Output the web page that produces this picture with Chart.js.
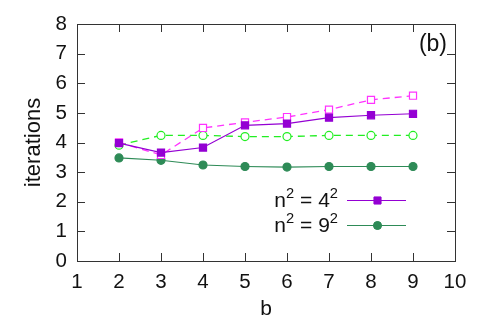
<!DOCTYPE html>
<html>
<head>
<meta charset="utf-8">
<script src="https://cdn.jsdelivr.net/npm/chart.js@4.4.0/dist/chart.umd.min.js"></script>
<style>
  html, body { margin: 0; padding: 0; background: #fff; }
  #wrap { width: 491px; height: 327px; }
</style>
</head>
<body>
<div id="wrap"><canvas id="lineChart"></canvas></div>
<script>
// values
var bValues = [2, 3, 4, 5, 6, 7, 8, 9];
var n4Solid = [3.98, 3.66, 3.83, 4.58, 4.64, 4.84, 4.92, 4.97];
var n4Dashed = [4.00, 3.58, 4.49, 4.68, 4.86, 5.11, 5.44, 5.58];
var n9Solid = [3.48, 3.40, 3.24, 3.19, 3.17, 3.19, 3.19, 3.19];
var n9Dashed = [3.91, 4.24, 4.24, 4.20, 4.20, 4.24, 4.24, 4.24];
var xTicks = [1, 2, 3, 4, 5, 6, 7, 8, 9, 10];
var yTicks = [0, 1, 2, 3, 4, 5, 6, 7, 8];
var panelLabel = '(b)';

var FONT = "'Liberation Sans', Arial, sans-serif";

function pts(arr) {
    return bValues.map(function (b, i) { return { x: b, y: arr[i] }; });
}

// superscript aware text: '^' marks a one character superscript
function drawSupText(ctx, text, xRight, y, size) {
    var parts = [];
    for (var i = 0; i < text.length; i++) {
        if (text[i] === '^') { parts.push({ t: text[i + 1], sup: true }); i++; }
        else parts.push({ t: text[i], sup: false });
    }
    var width = 0;
    parts.forEach(function (p) {
        ctx.font = (p.sup ? size * 0.7 : size) + 'px ' + FONT;
        p.w = ctx.measureText(p.t).width;
        width += p.w;
    });
    var x = xRight - width;
    ctx.textAlign = 'left';
    ctx.textBaseline = 'alphabetic';
    parts.forEach(function (p) {
        ctx.font = (p.sup ? size * 0.7 : size) + 'px ' + FONT;
        ctx.fillText(p.t, x, p.sup ? y - size * 0.42 : y);
        x += p.w;
    });
}

var framePlugin = {
    id: 'frame',
    afterDraw: function (chart) {
        var ctx = chart.ctx, a = chart.chartArea;
        var xs = chart.scales.x, ys = chart.scales.y;
        ctx.save();
        ctx.strokeStyle = '#333';
        ctx.lineWidth = 1;
        ctx.strokeRect(Math.round(a.left) + 0.5, Math.round(a.top) + 0.5,
            Math.round(a.right - a.left), Math.round(a.bottom - a.top));
        var tl = 8;
        ctx.beginPath();
        xTicks.forEach(function (v) {
            var px = Math.round(xs.getPixelForValue(v)) + 0.5;
            ctx.moveTo(px, a.bottom); ctx.lineTo(px, a.bottom - tl);
            ctx.moveTo(px, a.top); ctx.lineTo(px, a.top + tl);
        });
        yTicks.forEach(function (v) {
            var py = Math.round(ys.getPixelForValue(v)) + 0.5;
            ctx.moveTo(a.left, py); ctx.lineTo(a.left + tl, py);
            ctx.moveTo(a.right, py); ctx.lineTo(a.right - tl, py);
        });
        ctx.stroke();

        // panel label
        ctx.fillStyle = '#111';
        ctx.font = '23px ' + FONT;
        ctx.textAlign = 'right';
        ctx.textBaseline = 'alphabetic';
        ctx.fillText(panelLabel, a.right - 8, a.top + 27);

        // legend for the solid series, inside the plot
        var legendSets = [0, 2];
        legendSets.forEach(function (di, k) {
            var ds = chart.data.datasets[di];
            var ly = 200 + k * 25;
            ctx.fillStyle = '#111';
            drawSupText(ctx, ds.label, 338, ly + 7, 21);
            ctx.strokeStyle = ds.borderColor;
            ctx.lineWidth = 1;
            ctx.setLineDash([]);
            ctx.beginPath();
            ctx.moveTo(347, ly + 0.5); ctx.lineTo(406, ly + 0.5);
            ctx.stroke();
            ctx.fillStyle = ds.pointBackgroundColor;
            ctx.strokeStyle = ds.borderColor;
            Chart.helpers.drawPoint(ctx, {
                pointStyle: ds.pointStyle, radius: ds.pointRadius, borderWidth: 1
            }, 377.5, ly + 0.5);
            ctx.fill();
        });
        ctx.restore();
    }
};

var ctx = document.getElementById('lineChart').getContext('2d');
var myLineChart = new Chart(ctx, {
    type: 'line',
    data: {
        datasets: [
            {
                label: 'n^2 = 4^2', data: pts(n4Solid),
                borderColor: '#9400d3', backgroundColor: '#9400d3',
                pointBackgroundColor: '#9400d3', pointBorderColor: '#9400d3',
                pointStyle: 'rect', pointRadius: 5, borderWidth: 1.2, tension: 0
            },
            {
                label: 'n4 dashed', data: pts(n4Dashed),
                borderColor: '#ff33ff', backgroundColor: '#ffffff',
                pointBackgroundColor: '#ffffff', pointBorderColor: '#ff33ff',
                pointStyle: 'rect', pointRadius: 5, pointBorderWidth: 1.2,
                borderWidth: 1.3, borderDash: [7, 5], tension: 0
            },
            {
                label: 'n^2 = 9^2', data: pts(n9Solid),
                borderColor: '#2e8b57', backgroundColor: '#2e8b57',
                pointBackgroundColor: '#2e8b57', pointBorderColor: '#2e8b57',
                pointStyle: 'circle', pointRadius: 4, borderWidth: 1.2, tension: 0
            },
            {
                label: 'n9 dashed', data: pts(n9Dashed),
                borderColor: '#22ee22', backgroundColor: '#ffffff',
                pointBackgroundColor: '#ffffff', pointBorderColor: '#22ee22',
                pointStyle: 'circle', pointRadius: 4, pointBorderWidth: 1.2,
                borderWidth: 1.3, borderDash: [7, 5], tension: 0
            }
        ]
    },
    options: {
        responsive: true,
        maintainAspectRatio: false,
        animation: false,
        layout: { padding: { left: 0, top: 24, right: 36, bottom: 0 } },
        plugins: { legend: { display: false }, tooltip: { enabled: false } },
        scales: {
            x: {
                type: 'linear', min: 1, max: 10,
                afterBuildTicks: function (s) { s.ticks = xTicks.map(function (v) { return { value: v }; }); },
                afterFit: function (s) { s.height = 66; },
                grid: { display: false, drawTicks: false },
                border: { display: false },
                ticks: { color: '#111', font: { family: FONT, size: 20.5 }, padding: 9, maxRotation: 0 },
                title: { display: true, text: 'b', color: '#111', font: { family: FONT, size: 21 }, padding: { top: 0, bottom: 5 } }
            },
            y: {
                type: 'linear', min: 0, max: 8,
                afterBuildTicks: function (s) { s.ticks = yTicks.map(function (v) { return { value: v }; }); },
                afterFit: function (s) { s.width = 77; },
                grid: { display: false, drawTicks: false },
                border: { display: false },
                ticks: { color: '#111', font: { family: FONT, size: 20.5 }, padding: 10 },
                title: { display: true, text: 'iterations', color: '#111', font: { family: FONT, size: 22 }, padding: { top: 21, bottom: 0 } }
            }
        }
    },
    plugins: [framePlugin]
});
</script>
</body>
</html>
